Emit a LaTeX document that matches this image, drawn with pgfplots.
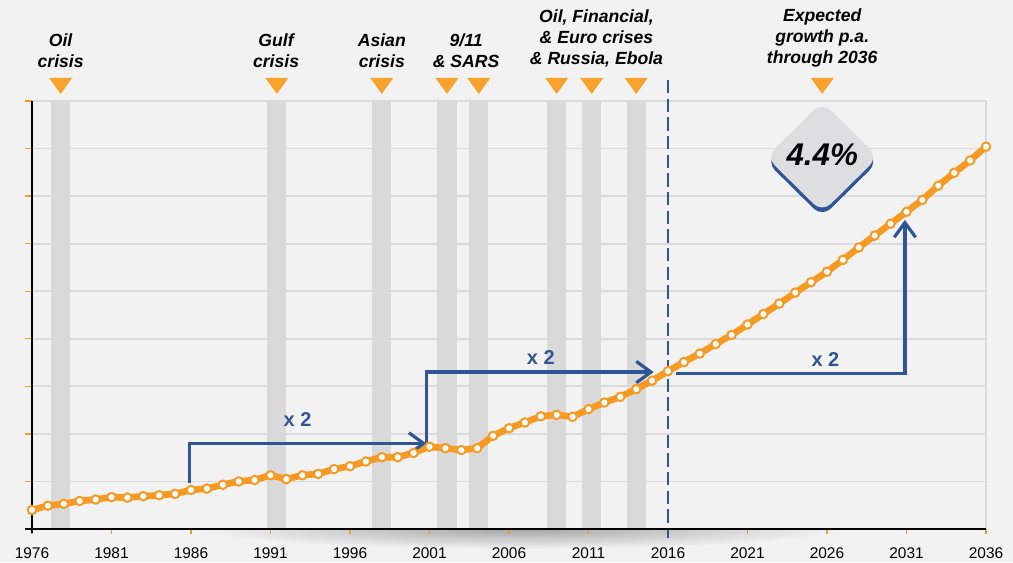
\documentclass[border=0pt]{standalone}
\usepackage{fontspec}
\setmainfont{Liberation Sans}
\usepackage{pgfplots}
\pgfplotsset{compat=1.18}
\usetikzlibrary{arrows.meta,shapes.geometric}

\definecolor{bg}{HTML}{F2F2F2}
\definecolor{band}{HTML}{D9D9D9}
\definecolor{gridc}{HTML}{DADADA}
\definecolor{lineorange}{HTML}{F79A23}
\definecolor{tri}{HTML}{F9A22B}
\definecolor{dblue}{HTML}{2F5597}
\definecolor{diam}{HTML}{DDDEE0}

% 1 px of the reference = 0.75pt
\begin{document}
\begin{tikzpicture}[
  lab/.style={font=\fontsize{13.2}{15.8}\selectfont\bfseries\itshape, align=center, inner sep=0pt, anchor=south},
  times/.style={font=\fontsize{15}{17}\selectfont\bfseries, text=dblue, inner sep=0pt},
  dbl/.style={dblue, line width=2.4pt, line join=miter, -{Straight Barb[length=11pt,width=16pt]}}]
\fill[bg] (0pt,0pt) rectangle (759.75pt,421.5pt);
% soft shadow under the x axis
\begin{scope}
\clip (0pt,0pt) rectangle (759.75pt,24.75pt);
\shade[inner color=black!32!bg, outer color=bg] (390pt,24.75pt) ellipse [x radius=240pt, y radius=15pt];
\end{scope}

\begin{axis}[
  at={(24pt,24.75pt)}, anchor=south west,
  scale only axis,
  width=715.5pt, height=321pt,
  xmin=1976, xmax=2036,
  ymin=0, ymax=9,
  clip=false,
  axis x line*=bottom, axis y line*=left,
  axis line style={draw=none},
  xtick={1976,1981,1986,1991,1996,2001,2006,2011,2016,2021,2026,2031,2036},
  xticklabels={1976,1981,1986,1991,1996,2001,2006,2011,2016,2021,2026,2031,2036},
  ytick={1,2,3,4,5,6,7,8,9},
  yticklabels={},
  tick align=outside,
  xtick align=outside, ytick align=outside,
  major tick length=4pt,
  every tick/.style={lineorange, line width=1pt},
  xticklabel style={font=\fontsize{11.6}{13}\selectfont, yshift=-6.5pt},
  ymajorgrids,
  grid style={color=gridc, line width=1.3pt},
]
% crisis bands
\fill[band] (axis cs:1977.2,0) rectangle (axis cs:1978.4,9);
\fill[band] (axis cs:1990.8,0) rectangle (axis cs:1992.0,9);
\fill[band] (axis cs:1997.4,0) rectangle (axis cs:1998.6,9);
\fill[band] (axis cs:2001.5,0) rectangle (axis cs:2002.7,9);
\fill[band] (axis cs:2003.5,0) rectangle (axis cs:2004.7,9);
\fill[band] (axis cs:2008.4,0) rectangle (axis cs:2009.6,9);
\fill[band] (axis cs:2010.6,0) rectangle (axis cs:2011.8,9);
\fill[band] (axis cs:2013.4,0) rectangle (axis cs:2014.6,9);
\draw[gridc, line width=1.3pt] (axis cs:2036,0) -- (axis cs:2036,9);

% markers above the bands
\fill[tri] (axis cs:1977.8,9.485) ++(-8.6pt,0pt) -- ++(17.2pt,0pt) -- ++(-8.6pt,-12pt) -- cycle;
\fill[tri] (axis cs:1991.4,9.485) ++(-8.6pt,0pt) -- ++(17.2pt,0pt) -- ++(-8.6pt,-12pt) -- cycle;
\fill[tri] (axis cs:1998.0,9.485) ++(-8.6pt,0pt) -- ++(17.2pt,0pt) -- ++(-8.6pt,-12pt) -- cycle;
\fill[tri] (axis cs:2002.1,9.485) ++(-8.6pt,0pt) -- ++(17.2pt,0pt) -- ++(-8.6pt,-12pt) -- cycle;
\fill[tri] (axis cs:2004.1,9.485) ++(-8.6pt,0pt) -- ++(17.2pt,0pt) -- ++(-8.6pt,-12pt) -- cycle;
\fill[tri] (axis cs:2009.0,9.485) ++(-8.6pt,0pt) -- ++(17.2pt,0pt) -- ++(-8.6pt,-12pt) -- cycle;
\fill[tri] (axis cs:2011.2,9.485) ++(-8.6pt,0pt) -- ++(17.2pt,0pt) -- ++(-8.6pt,-12pt) -- cycle;
\fill[tri] (axis cs:2014.0,9.485) ++(-8.6pt,0pt) -- ++(17.2pt,0pt) -- ++(-8.6pt,-12pt) -- cycle;
\fill[tri] (axis cs:2025.7,9.485) ++(-8.6pt,0pt) -- ++(17.2pt,0pt) -- ++(-8.6pt,-12pt) -- cycle;

\node[lab] at (axis cs:1977.8,9.70) {Oil\\crisis};
\node[lab] at (axis cs:1991.35,9.70) {Gulf\\crisis};
\node[lab] at (axis cs:1998.0,9.70) {Asian\\crisis};
\node[lab] at (axis cs:2003.3,9.70) {9/11\\\& SARS};
\node[lab] at (axis cs:2011.5,9.70) {Oil, Financial,\\\& Euro crises\\\& Russia, Ebola};
\node[lab] at (axis cs:2025.7,9.70) {Expected\\growth p.a.\\through 2036};

% today line
\draw[dblue, line width=1.7pt, dash pattern=on 10pt off 4pt] (axis cs:2016,9.44) -- (axis cs:2016,-0.19);

% growth badge
\node[diamond, aspect=1, inner sep=0pt, minimum width=84pt, minimum height=83pt,
  rounded corners=9pt, fill=dblue, yshift=-3.5pt] at (axis cs:2025.7,7.82) {};
\node[diamond, aspect=1, inner sep=0pt, minimum width=84pt, minimum height=83pt,
  rounded corners=9pt, fill=diam] at (axis cs:2025.7,7.82) {};
\node[font=\fontsize{23.5}{26}\selectfont\bfseries\itshape, inner sep=0pt] at (axis cs:2025.7,7.87) {4.4\%};

\addplot[lineorange, line width=5pt, line join=round,
  mark=*, mark size=3.2pt, mark options={fill=white, draw=lineorange, line width=1.5pt}]
coordinates {
(1976,0.40) (1977,0.49) (1978,0.53) (1979,0.59) (1980,0.62)
(1981,0.67) (1982,0.66) (1983,0.69) (1984,0.71) (1985,0.74)
(1986,0.82) (1987,0.85) (1988,0.93) (1989,1.00) (1990,1.03)
(1991,1.13) (1992,1.05) (1993,1.13) (1994,1.16) (1995,1.26)
(1996,1.32) (1997,1.42) (1998,1.51) (1999,1.51) (2000,1.60)
(2001,1.73) (2002,1.70) (2003,1.66) (2004,1.70) (2005,1.96)
(2006,2.12) (2007,2.24) (2008,2.37) (2009,2.40) (2010,2.36)
(2011,2.52) (2012,2.66) (2013,2.78) (2014,2.94) (2015,3.12)
(2016,3.32) (2017,3.51) (2018,3.69) (2019,3.89) (2020,4.08)
(2021,4.30) (2022,4.52) (2023,4.74) (2024,4.97) (2025,5.19)
(2026,5.41) (2027,5.66) (2028,5.92) (2029,6.17) (2030,6.42)
(2031,6.67) (2032,6.92) (2033,7.22) (2034,7.49) (2035,7.75)
(2036,8.04)
};

% doubling steps
\draw[dbl] (axis cs:1985.9,0.97) -- (axis cs:1985.9,1.80) -- (axis cs:2000.8,1.80);
\draw[dbl] (axis cs:2000.8,1.80) -- (axis cs:2000.8,3.30) -- (axis cs:2015.1,3.30);
\draw[dbl] (axis cs:2016.5,3.27) -- (axis cs:2030.9,3.27) -- (axis cs:2030.9,6.50);
\node[times] at (axis cs:1992.7,2.30) {x 2};
\node[times] at (axis cs:2008.0,3.61) {x 2};
\node[times] at (axis cs:2025.9,3.57) {x 2};

% axis lines, with the orange y ticks on the left
\pgfplotsinvokeforeach{1,...,9}{
  \draw[lineorange, line width=1pt] (axis cs:1976,#1) -- ++(-5pt,0pt);
}
\draw[black, line width=1.9pt] (axis cs:1975.55,0) -- (axis cs:2036,0);
\draw[black, line width=1.5pt] (axis cs:1976,-0.09) -- (axis cs:1976,9);
\end{axis}
\pgfresetboundingbox
\path[use as bounding box] (0pt,0pt) rectangle (759.75pt,421.5pt);
\end{tikzpicture}
\end{document}
